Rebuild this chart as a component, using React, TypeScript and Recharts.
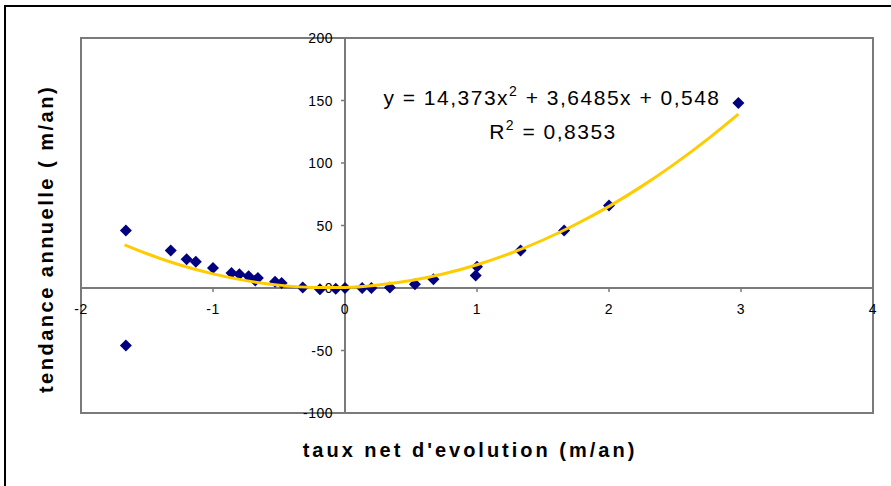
import React from "react";
import { ScatterChart, Scatter, XAxis, YAxis, ReferenceLine, ReferenceArea, ReferenceDot } from "recharts";

// observed points (taux net d'evolution, tendance annuelle)
const netRate = [-1.66, -1.66, -1.32, -1.2, -1.13, -1.0, -0.86, -0.8, -0.73, -0.66, -0.68, -0.53, -0.48, -0.32, -0.19, -0.07, 0.0, 0.13, 0.2, 0.34, 0.53, 0.67, 0.99, 1.0, 1.33, 1.66, 2.0, 2.98];
const annualTrend = [46, -46, 30, 23, 21, 16, 12, 11, 9.5, 8, 6, 5, 4, 0.5, -1, -0.5, 0, 0, 0, 0.5, 3, 7, 10, 17, 30, 46, 66, 148];

// polynomial trendline
const trendX = [-1.67, -1.5, -1.25, -1.0, -0.75, -0.5, -0.25, 0, 0.25, 0.5, 0.75, 1.0, 1.25, 1.5, 1.75, 2.0, 2.25, 2.5, 2.75, 2.98];
const trendY = [34.5, 27.4, 18.4, 11.3, 5.9, 2.3, 0.5, 0.5, 2.4, 6.0, 11.4, 18.6, 27.6, 38.4, 51.0, 65.3, 81.5, 99.5, 119.3, 139.1];

const xTicks = [-2, -1, 0, 1, 2, 3, 4];
const yTicks = [-100, -50, 0, 50, 100, 150, 200];

const points = netRate.map((x, i) => ({ x, y: annualTrend[i] }));
const trend = trendX.map((x, i) => ({ x, y: trendY[i] }));

const FONT = "'Liberation Sans', Arial, sans-serif";
const GREY = "#7a7a7a";

const Diamond = (p: any) => (
  <path
    d={`M${p.cx},${p.cy - 6}L${p.cx + 6},${p.cy}L${p.cx},${p.cy + 6}L${p.cx - 6},${p.cy}Z`}
    fill="#000080"
  />
);

const XTick = (label: number) => (p: any) => (
  <g>
    <line x1={p.cx} y1={p.cy} x2={p.cx} y2={p.cy + 4} stroke={GREY} strokeWidth={1.5} />
    <text x={p.cx} y={p.cy + 26} textAnchor="middle" fontSize={14} fontFamily={FONT} letterSpacing={0.5} fill="#000">
      {label}
    </text>
  </g>
);

const YTick = (label: number) => (p: any) => (
  <g>
    <line x1={p.cx - 4} y1={p.cy} x2={p.cx} y2={p.cy} stroke={GREY} strokeWidth={1.5} />
    <text x={p.cx - 12} y={p.cy + 5} textAnchor="end" fontSize={14} fontFamily={FONT} letterSpacing={0.5} fill="#000">
      {label}
    </text>
  </g>
);

export default function App() {
  return (
    <div style={{ position: "absolute", left: 0, top: 0, width: 891, height: 486, background: "#fff", overflow: "hidden" }}>
      <ScatterChart width={891} height={486} margin={{ top: 38, right: 18, bottom: 73, left: 81 }}>
        <XAxis type="number" dataKey="x" domain={[-2, 4]} ticks={xTicks} hide allowDataOverflow />
        <YAxis type="number" dataKey="y" domain={[-100, 200]} ticks={yTicks} hide allowDataOverflow />
        <ReferenceArea x1={-2} x2={4} y1={-100} y2={200} fill="none" stroke={GREY} strokeWidth={2} fillOpacity={0} ifOverflow="visible" />
        <ReferenceLine x={0} stroke={GREY} strokeWidth={2} />
        <ReferenceLine y={0} stroke={GREY} strokeWidth={2} />
        {xTicks.map((t) => (
          <ReferenceDot key={`xt${t}`} x={t} y={0} ifOverflow="visible" shape={XTick(t)} />
        ))}
        {yTicks.map((t) => (
          <ReferenceDot key={`yt${t}`} x={0} y={t} ifOverflow="visible" shape={YTick(t)} />
        ))}
        <Scatter data={points} shape={Diamond} isAnimationActive={false} />
        <Scatter
          data={trend}
          line={{ stroke: "#FFCC00", strokeWidth: 3 }}
          lineJointType="monotoneX"
          shape={() => <g />}
          isAnimationActive={false}
        />
      </ScatterChart>
      <svg width={891} height={486} style={{ position: "absolute", left: 0, top: 0, pointerEvents: "none" }}>
        <rect x={5} y={6} width={900} height={500} fill="none" stroke="#000" strokeWidth={2} />
        <text x={552} y={105} textAnchor="middle" fontSize={21} fontFamily={FONT} letterSpacing={1.5} fill="#000">
          y = 14,373x<tspan dy={-9} fontSize={14}>2</tspan>
          <tspan dy={9}> + 3,6485x + 0,548</tspan>
        </text>
        <text x={553} y={139} textAnchor="middle" fontSize={21} fontFamily={FONT} letterSpacing={1.5} fill="#000">
          R<tspan dy={-9} fontSize={14}>2</tspan>
          <tspan dy={9}> = 0,8353</tspan>
        </text>
        <text x={470} y={457} textAnchor="middle" fontSize={20} fontWeight="bold" fontFamily={FONT} letterSpacing={3} fill="#000">
          taux net d'evolution (m/an)
        </text>
        <text
          transform="translate(53,239) rotate(-90)"
          textAnchor="middle"
          fontSize={20}
          fontWeight="bold"
          fontFamily={FONT}
          letterSpacing={2.5}
          fill="#000"
        >
          tendance annuelle ( m/an)
        </text>
      </svg>
    </div>
  );
}
